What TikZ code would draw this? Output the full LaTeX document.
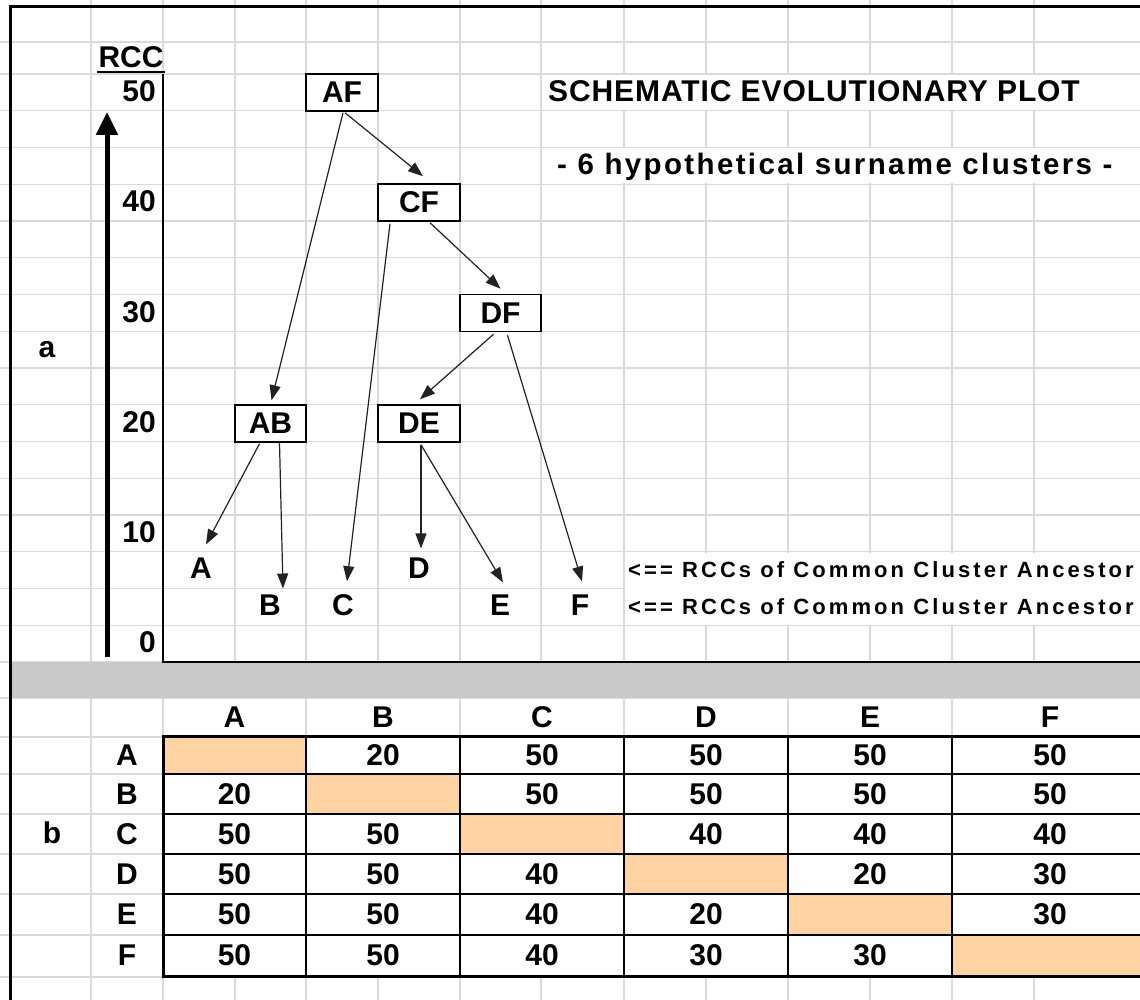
\documentclass[tikz,border=0pt]{standalone}
\usepackage{fontspec}
\setmainfont{Liberation Sans}
\newfontfamily\spacedsmall[LetterSpace=14]{Liberation Sans}
\newfontfamily\spacedmid[LetterSpace=8]{Liberation Sans}
\newfontfamily\spacedtitle[LetterSpace=3]{Liberation Sans}
\usetikzlibrary{arrows.meta,calc}
\definecolor{gridc}{HTML}{DADADA}
\definecolor{peach}{HTML}{FFD3A2}
\definecolor{bandc}{HTML}{C9C9C9}
\definecolor{arrc}{HTML}{222222}
\begin{document}
\begin{tikzpicture}[x=1pt,y=-1pt,
  lab/.style={font=\fontsize{30}{36}\selectfont\bfseries, inner sep=0pt},
  clbox/.style={lab, draw, line width=1.5pt, fill=white, minimum height=37pt},
  conn/.style={draw=arrc, line width=1.2pt, -{Triangle[length=15pt,width=11pt]}},
  gridline/.style={draw=gridc, line width=1.2pt},
  tabthin/.style={draw=black, line width=1.5pt},
  tabthick/.style={draw=black, line width=3pt}
]
\useasboundingbox (0,0) rectangle (1140,1000);
\begin{scope}
\clip (0,0) rectangle (1140,1000);
\fill[white] (0,0) rectangle (1140,1000);
% grid
\foreach \x in {91,163,235,306,378,460,541,624,706,788,870,952,1034}
  \draw[gridline] (\x,0) -- (\x,1000);
\foreach \y in {42,698,737,774,814,854,894,935,977}
  \draw[gridline] (0,\y) -- (1140,\y);
\foreach \k in {0,...,16}
  \draw[gridline] (0,{74+36.75*\k}) -- (1140,{74+36.75*\k});
% cells hidden by overflowing text
\fill[white] (542,75) rectangle (1140,110);
\fill[white] (542,148.3) rectangle (1140,183.5);
\fill[white] (625,552.5) rectangle (1140,624.5);
\fill[white] (164,698.8) rectangle (1140,736);
\foreach \x in {306,460,624,788,952}
  \draw[gridline] (\x,698) -- (\x,737);
% grey band
\fill[bandc] (10,662) rectangle (1140,698);
% table
\fill[white] (163,736) rectangle (1145,976);
\fill[peach] (163,736) rectangle (306,774);
\fill[peach] (306,774) rectangle (460,814);
\fill[peach] (460,814) rectangle (624,854);
\fill[peach] (624,854) rectangle (788,894);
\fill[peach] (788,894) rectangle (952,935);
\fill[peach] (952,935) rectangle (1145,976);
\foreach \y in {774,814,854,894,935}
  \draw[tabthin] (163,\y) -- (1145,\y);
\foreach \x in {306,460,624,788,952}
  \draw[tabthin] (\x,736) -- (\x,976);
\draw[tabthick] (1150,736) -- (163,736) -- (163,976) -- (1150,976);
% plot frame
\draw[line width=1.3pt] (163,74) -- (163,662) -- (1145,662);
% outer border
\draw[line width=3pt] (10,1005) -- (10,7) -- (1145,7);
% thick arrow
\draw[line width=5pt, -{Triangle[length=23pt,width=21pt]}] (107,657) -- (107,112);
\end{scope}
% RCC
\node[lab] (rcc) at (131,57) {RCC};
\draw[line width=2pt] ($(rcc.south west)+(-1,4)$) -- ($(rcc.south east)+(1,4)$);
% ticks
\node[lab, anchor=east] (t50) at (156,91) {50};
\node[lab, anchor=east] (t40) at (156,201.5) {40};
\node[lab, anchor=east] (t30) at (156,312) {30};
\node[lab, anchor=east] (t20) at (156,422) {20};
\node[lab, anchor=east] (t10) at (156,532) {10};
\node[lab, anchor=east] (t0) at (156,642) {0};
\node[lab] (la) at (47,350) {a};
\node[lab] (lb) at (52,833) {b};
% title
\node[font=\fontsize{30}{36}\spacedtitle\bfseries, inner sep=0pt, anchor=base west] (title) at (548,102) {SCHEMATIC EVOLUTIONARY PLOT};
\node[font=\fontsize{29.5}{34}\spacedmid\bfseries, inner sep=0pt, anchor=base west] (sub) at (557,175) {- 6 hypothetical surname clusters -};
\node[font=\fontsize{22}{26}\spacedsmall\bfseries, inner sep=0pt, anchor=base west] (note1) at (628,577.5) {<== RCCs of Common Cluster Ancestor};
\node[font=\fontsize{22}{26}\spacedsmall\bfseries, inner sep=0pt, anchor=base west] (note2) at (628,614.5) {<== RCCs of Common Cluster Ancestor};
% leaves
\node[lab] (A) at (201,568) {A};
\node[lab] (B) at (270,605) {B};
\node[lab] (C) at (343,605) {C};
\node[lab] (D) at (419,568) {D};
\node[lab] (E) at (500,605) {E};
\node[lab] (F) at (580,605) {F};
% cluster boxes
\node[clbox, minimum width=72pt] (AF) at (342,92.5) {AF};
\node[clbox, minimum width=82pt] (CF) at (419,202.5) {CF};
\node[clbox, minimum width=81pt] (DF) at (500.5,313) {DF};
\node[clbox, minimum width=71pt] (AB) at (270.5,423.5) {AB};
\node[clbox, minimum width=82pt] (DE) at (419,423.5) {DE};
% connectors
\draw[conn] ($(AF.south)+(1,1)$) -- ($(AB.north)+(1,-4)$);
\draw[conn] ($(AF.south)+(3,1)$) -- ($(CF.north)+(4,-7)$);
\draw[conn] ($(CF.south)+(-29,2)$) -- ($(C.north)+(4,-13)$);
\draw[conn] ($(CF.south)+(11,1)$) -- ($(DF.north)+(0,-5)$);
\draw[conn] ($(DF.south)+(-7,2)$) -- ($(DE.north)+(1,-5)$);
\draw[conn] ($(DF.south)+(7,3)$) -- ($(F.north)+(2,-13)$);
\draw[conn] ($(AB.south)+(-11,1)$) -- ($(A.north)+(5,-13)$);
\draw[conn] ($(AB.south)+(9,0)$) -- ($(B.north)+(13,-6)$);
\draw[conn] ($(DE.south)+(2,2)$) -- ($(D.north)+(2,-9)$);
\draw[conn] ($(DE.south)+(2,2)$) -- ($(E.north)+(3,-12)$);
% table headers
\foreach \t/\x in {A/234.5,B/383,C/542,D/706,E/870,F/1050}
  \node[lab] (h\t) at (\x,717) {\t};
\foreach \t/\y in {A/755,B/794,C/834,D/874,E/914.5,F/955.5}
  \node[lab] (r\t) at (127,\y) {\t};
% values
\foreach \x/\y/\v [count=\i] in {
  383/755/20, 542/755/50, 706/755/50, 870/755/50, 1050/755/50,
  234.5/794/20, 542/794/50, 706/794/50, 870/794/50, 1050/794/50,
  234.5/834/50, 383/834/50, 706/834/40, 870/834/40, 1050/834/40,
  234.5/874/50, 383/874/50, 542/874/40, 870/874/20, 1050/874/30,
  234.5/914.5/50, 383/914.5/50, 542/914.5/40, 706/914.5/20, 1050/914.5/30,
  234.5/955.5/50, 383/955.5/50, 542/955.5/40, 706/955.5/30, 870/955.5/30}
  \node[lab] (v\i) at (\x,\y) {\v};
\end{tikzpicture}
\end{document}
